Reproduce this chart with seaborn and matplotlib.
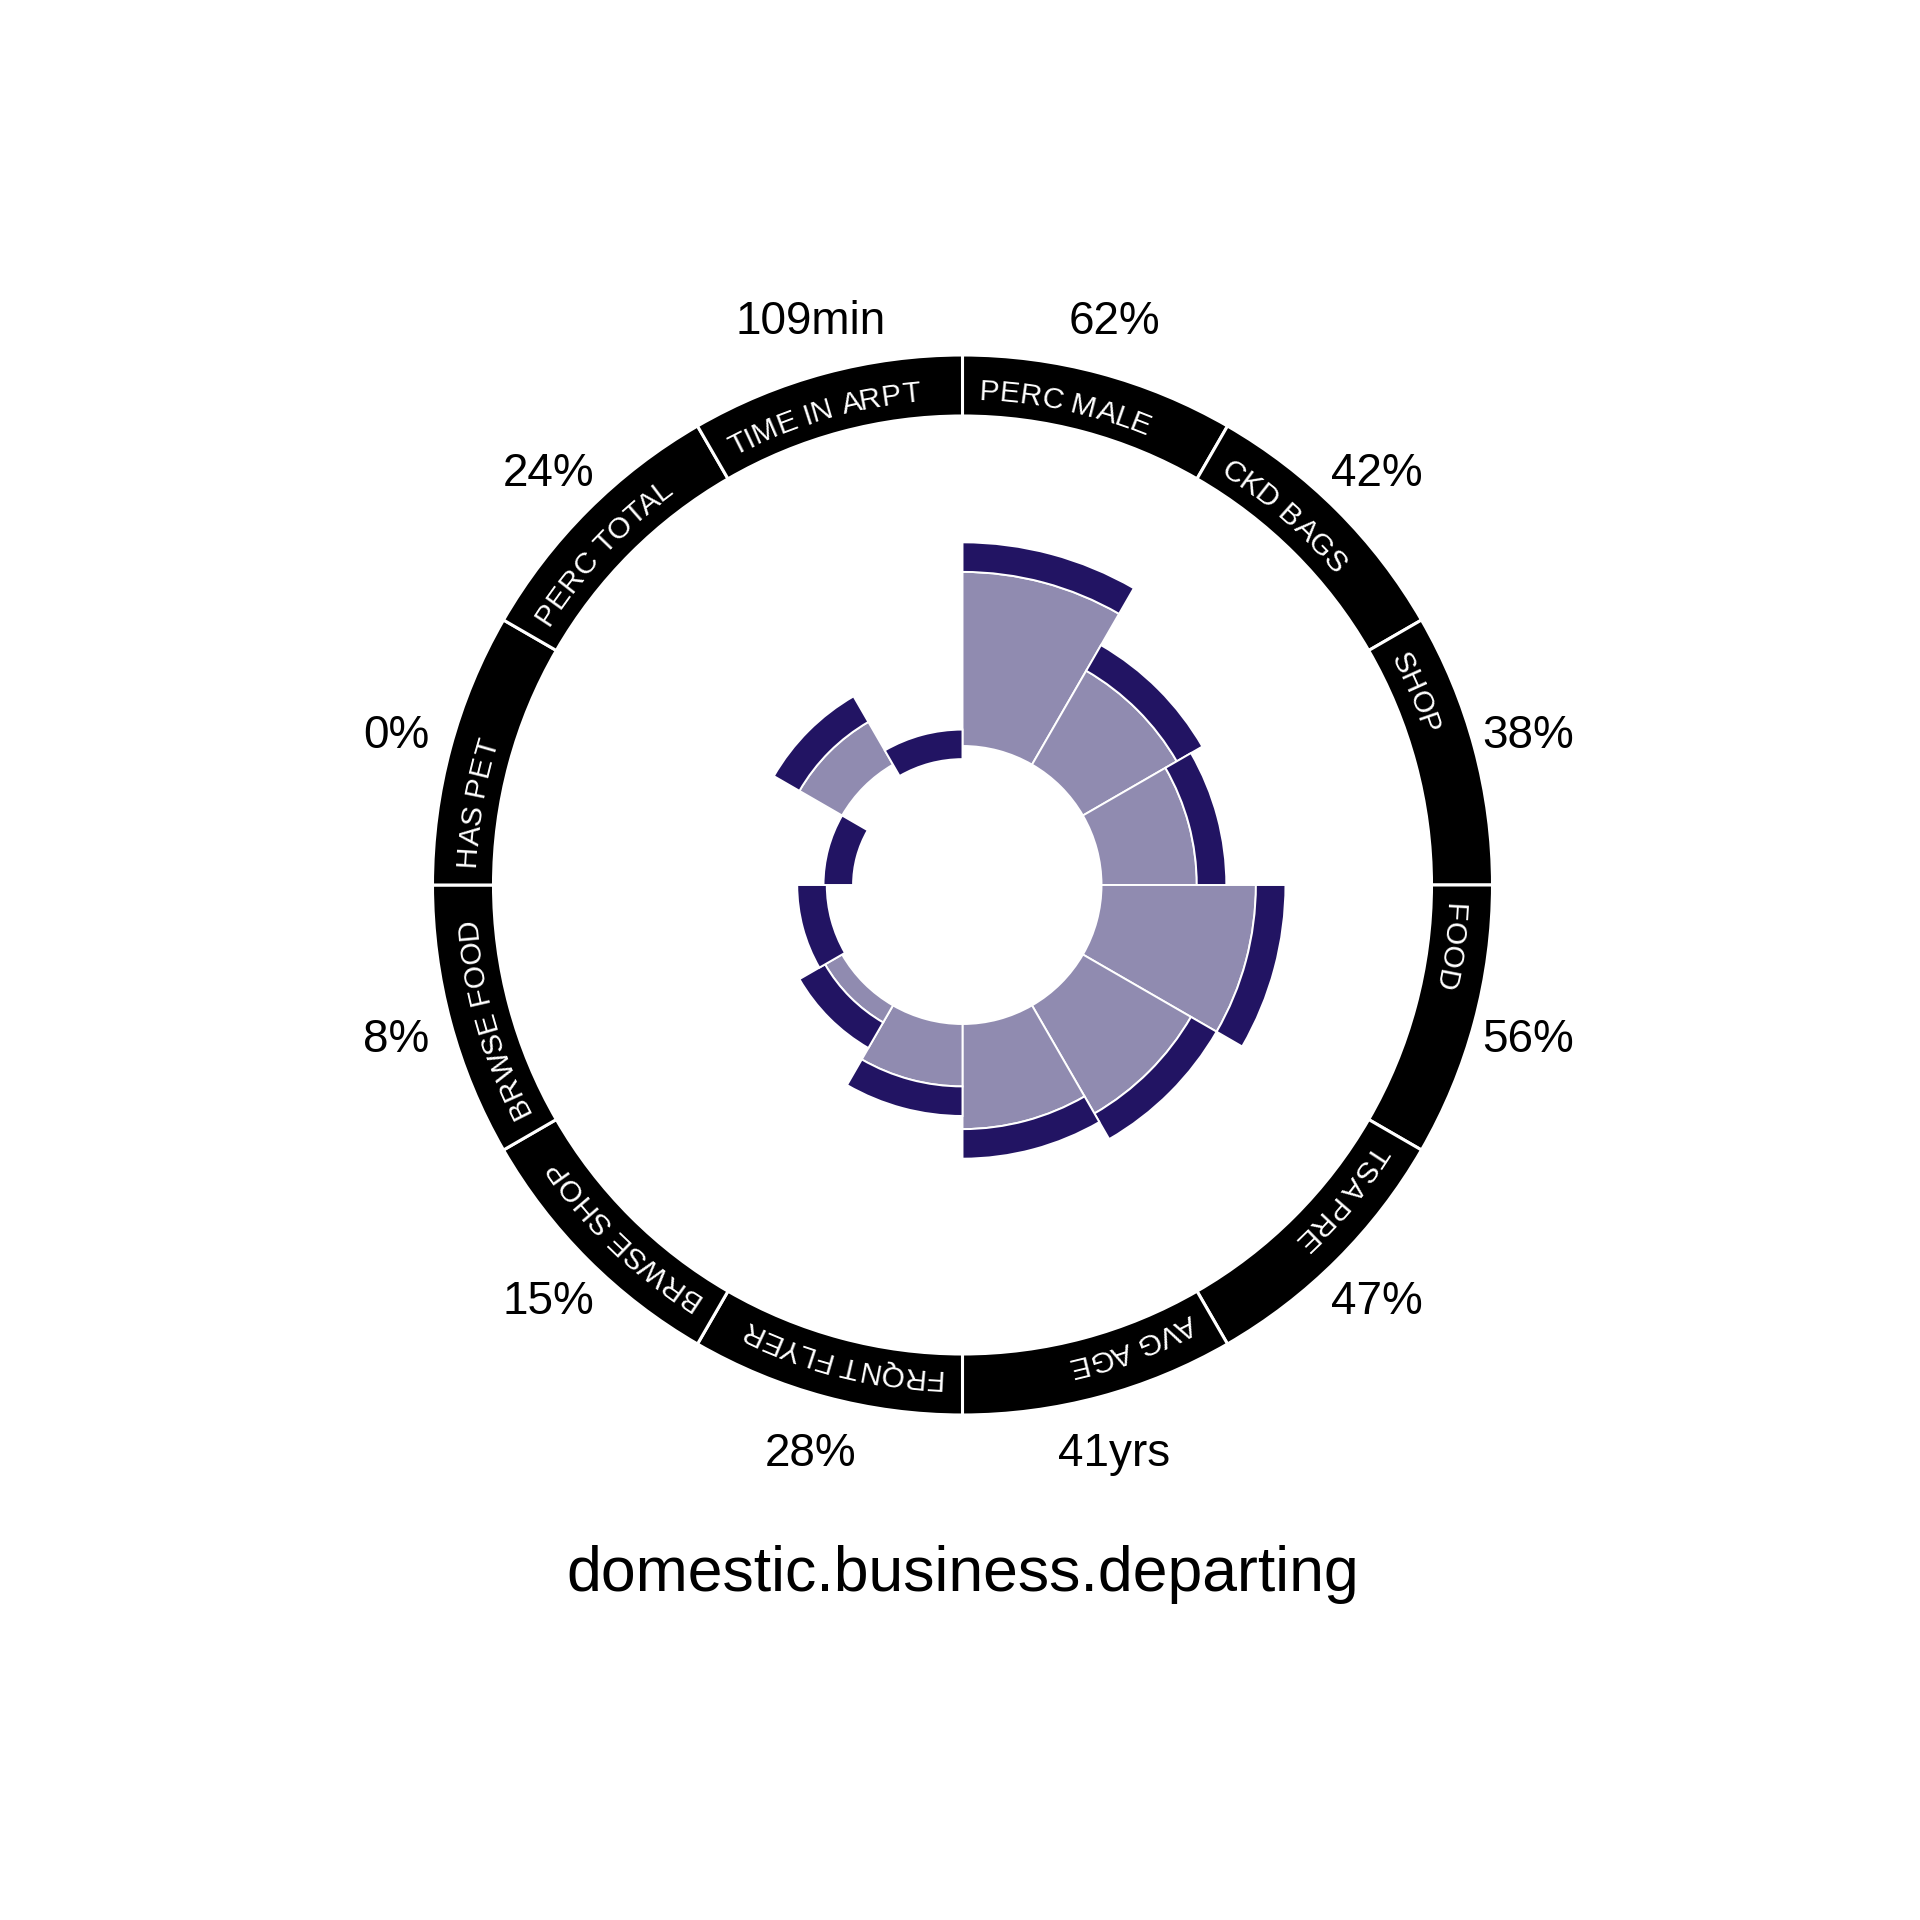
import numpy as np
import pandas as pd
import matplotlib
matplotlib.use("Agg")
import matplotlib.pyplot as plt
import matplotlib.transforms as mtransforms
import seaborn as sns
from matplotlib import font_manager
from matplotlib.ft2font import FT2Font
try:
    from matplotlib.ft2font import Kerning
    KERN_MODE = Kerning.DEFAULT
except ImportError:
    from matplotlib.ft2font import KERNING_DEFAULT as KERN_MODE

# data (clockwise from 12 o'clock)
metrics = ["PERC MALE", "CKD BAGS", "SHOP", "FOOD", "TSA PRE", "AVG AGE",
           "FRQNT FLYER", "BRWSE SHOP", "BRWSE FOOD", "HAS PET", "PERC TOTAL", "TIME IN ARPT"]
bar_values = [62, 42, 38, 56, 47, 41, 28, 15, 8, 0, 24, 5]
value_labels = ["62%", "42%", "38%", "56%", "47%", "41yrs", "28%", "15%", "8%", "0%", "24%", "109min"]
chart_title = "domestic.business.departing"

light_col = "#908bb0"
dark_col = "#221463"
cap = 9  # thickness of the dark cap, in value units

sns.set_theme(style="white")
plt.rcParams["font.family"] = ["Liberation Sans", "DejaVu Sans"]

DPI = 100
fig = plt.figure(figsize=(19.2, 19.2), dpi=DPI)

# polar panel geometry (pixels)
cx, cy = 962.5, 885
half = 640
k = 3.285          # px per value unit
r0 = 139           # px radius of value 0
vmin = -r0 / k
vmax = half / k + vmin

def rv(px):
    return px / k + vmin

ax = fig.add_axes([(cx - half) / 1920, (1920 - cy - half) / 1920, 2 * half / 1920, 2 * half / 1920],
                  projection="polar")
ax.set_theta_zero_location("N")
ax.set_theta_direction(-1)
ax.set_ylim(vmin, vmax)
ax.grid(False)
ax.set_xticks([])
ax.set_yticks([])
ax.spines["polar"].set_visible(False)
ax.set_facecolor("white")

df = pd.DataFrame({"metric": metrics, "value": bar_values, "label": value_labels})
df["start"] = np.arange(len(df)) * 360 / len(df)
df["theta"] = np.deg2rad(df["start"] + 180 / len(df))
width = np.deg2rad(360 / len(df))
df["light"] = (df["value"] - cap).clip(lower=0)

lt = df[df["light"] > 0]
ax.bar(lt["theta"], lt["light"], width=width, bottom=0, color=light_col,
       edgecolor="white", linewidth=1.4)
ax.bar(df["theta"], cap, width=width, bottom=df["value"] - cap, color=dark_col,
       edgecolor="white", linewidth=1.4)

# outer black ring
ring_in, ring_out = rv(469), rv(530)
ax.bar(df["theta"], ring_out - ring_in, width=width, bottom=ring_in, color="black",
       edgecolor="white", linewidth=2.2)

# curved ring labels, one glyph at a time (with kerning)
ring_fs = 21.5
fpath = font_manager.findfont(font_manager.FontProperties(family="Liberation Sans"))
ft = FT2Font(fpath)
ft.set_size(ring_fs, DPI)

def curved_text(txt, start_deg, r_base):
    pos = 0.0
    prev = None
    for ch in txt:
        gi = ft.get_char_index(ord(ch))
        if prev is not None:
            try:
                pos += ft.get_kerning(prev, gi, KERN_MODE) / 64
            except Exception:
                pass
        g = ft.load_char(ord(ch))
        adv = g.linearHoriAdvance / 65536
        lsb = g.horiBearingX / 64
        ink_mid = lsb + g.width / 128
        if ch != " ":
            ang = start_deg + np.degrees((pos + ink_mid) / r_base)
            # agg shifts the glyph bitmap by its bearing along screen x; undo that
            tr = mtransforms.offset_copy(ax.transData, fig=fig, x=-lsb, y=0, units="dots")
            ax.text(np.deg2rad(ang), rv(r_base), ch, color="white", fontsize=ring_fs,
                    rotation=-ang, rotation_mode="anchor", ha="center", va="baseline",
                    clip_on=False, transform=tr)
        pos += adv
        prev = gi

for _, row in df.iterrows():
    curved_text(row["metric"], row["start"] + 2.1, 485.5)

# value labels outside the ring
lab_tr = mtransforms.offset_copy(ax.transData, fig=fig, x=0, y=-3, units="dots")
for _, row in df.iterrows():
    ax.text(row["theta"], rv(586), row["label"], fontsize=33, color="black",
            ha="center", va="center", clip_on=False, transform=lab_tr)

fig.text(cx / 1920, 1 - 1591 / 1920, chart_title, fontsize=45, color="black",
         ha="center", va="baseline")

fig.savefig("out.png", dpi=DPI, facecolor="white")
